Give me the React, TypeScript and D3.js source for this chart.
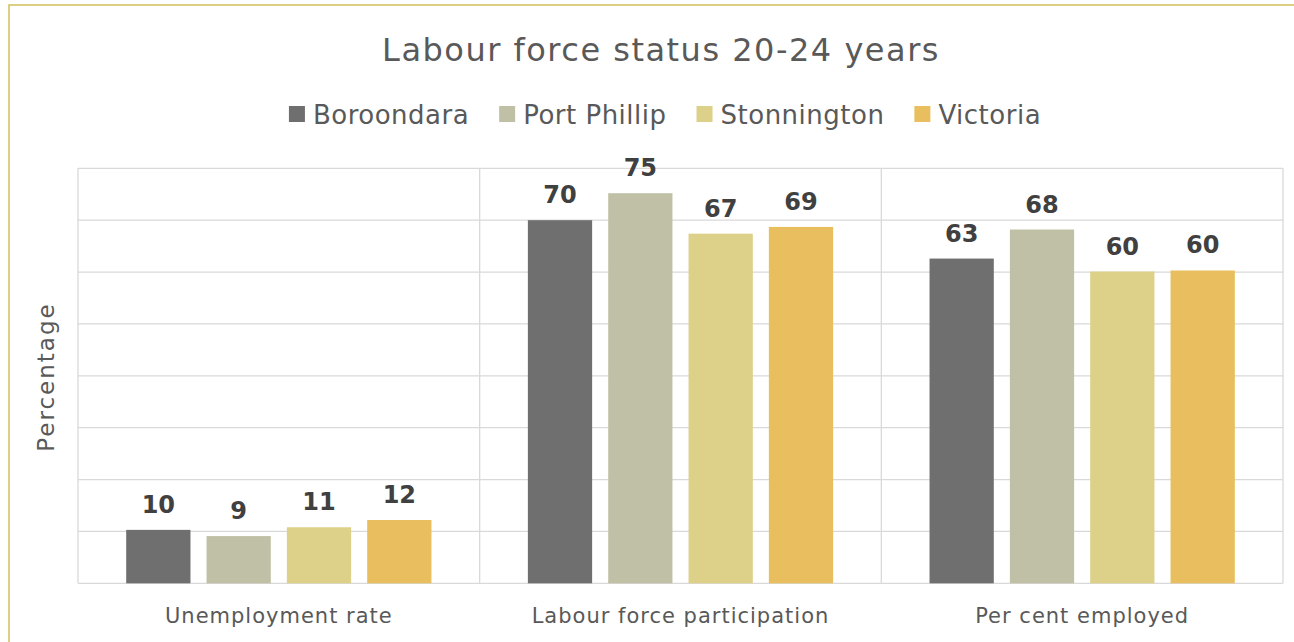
import React, { useRef, useEffect } from 'react';
import * as d3 from 'd3';

const categories = ["Unemployment rate", "Labour force participation", "Per cent employed"];
const seriesNames = ["Boroondara", "Port Phillip", "Stonnington", "Victoria"];
const boroondara = [10.3, 70.0, 62.6];
const portPhillip = [9.1, 75.2, 68.2];
const stonnington = [10.8, 67.4, 60.1];
const victoria = [12.2, 68.7, 60.3];
const colors = ["#6F6F6F", "#C0C0A6", "#DDD088", "#E8BE5E"];
const yTicks = [0, 10, 20, 30, 40, 50, 60, 70, 80];

const W = 1294;
const H = 642;
const FONT = "'DejaVu Sans', sans-serif";

export default function App() {
    const svgRef = useRef<SVGSVGElement>(null);

    useEffect(() => {
        if (!svgRef.current) return;
        const root = d3.select(svgRef.current);
        root.selectAll("*").remove();

        const values = [boroondara, portPhillip, stonnington, victoria];
        const plot = { left: 78, right: 1283, top: 168.3, bottom: 583.3 };

        // outer frame
        root.append("rect")
            .attr("x", 9).attr("y", 5)
            .attr("width", W + 20).attr("height", H + 20)
            .attr("fill", "#fff")
            .attr("stroke", "#D2C05A")
            .attr("stroke-width", 1.5);

        const x0 = d3.scaleBand().domain(categories).range([plot.left, plot.right]).padding(0);
        const x1 = d3.scaleBand().domain(seriesNames).range([0, x0.bandwidth()]).paddingInner(0.2).paddingOuter(0.6);
        const y = d3.scaleLinear().domain([0, 80]).range([plot.bottom, plot.top]);

        // horizontal grid
        root.append("g")
            .selectAll("line")
            .data(yTicks)
            .enter()
            .append("line")
            .attr("x1", plot.left).attr("x2", plot.right)
            .attr("y1", d => y(d)).attr("y2", d => y(d))
            .attr("stroke", "#D9D9D9")
            .attr("stroke-width", 1.3);

        // vertical category dividers
        const edges = [...categories.map(c => x0(c)!), plot.right];
        root.append("g")
            .selectAll("line")
            .data(edges)
            .enter()
            .append("line")
            .attr("x1", d => d).attr("x2", d => d)
            .attr("y1", plot.top).attr("y2", plot.bottom)
            .attr("stroke", "#D9D9D9")
            .attr("stroke-width", 1.3);

        // bars
        const rows = categories.flatMap((c, ci) => seriesNames.map((s, si) => ({
            cat: c, series: s, si, value: values[si][ci]
        })));

        root.append("g")
            .selectAll("rect")
            .data(rows)
            .enter()
            .append("rect")
            .attr("x", d => x0(d.cat)! + x1(d.series)!)
            .attr("y", d => y(d.value))
            .attr("width", x1.bandwidth())
            .attr("height", d => y(0) - y(d.value))
            .attr("fill", d => colors[d.si]);

        // data labels
        root.append("g")
            .selectAll("text")
            .data(rows)
            .enter()
            .append("text")
            .attr("x", d => x0(d.cat)! + x1(d.series)! + x1.bandwidth() / 2)
            .attr("y", d => y(d.value) - 17)
            .attr("text-anchor", "middle")
            .style("font-family", FONT)
            .style("font-size", "24px")
            .style("font-weight", "bold")
            .style("fill", "#404040")
            .text(d => Math.round(d.value));

        // category labels
        root.append("g")
            .selectAll("text")
            .data(categories)
            .enter()
            .append("text")
            .attr("x", d => x0(d)! + x0.bandwidth() / 2)
            .attr("y", 623)
            .attr("text-anchor", "middle")
            .style("font-family", FONT)
            .style("font-size", "21px")
            .style("letter-spacing", "1px")
            .style("fill", "#595959")
            .text(d => d);

        // y axis title
        root.append("text")
            .attr("transform", "translate(54,377) rotate(-90)")
            .attr("text-anchor", "middle")
            .style("font-family", FONT)
            .style("font-size", "23px")
            .style("letter-spacing", "2px")
            .style("fill", "#595959")
            .text("Percentage");

        // title
        root.append("text")
            .attr("x", 661)
            .attr("y", 61)
            .attr("text-anchor", "middle")
            .style("font-family", FONT)
            .style("font-size", "32px")
            .style("letter-spacing", "1.5px")
            .style("fill", "#595959")
            .text("Labour force status 20-24 years");

        // legend
        const legend = root.append("g");
        const items = legend.selectAll("g")
            .data(seriesNames)
            .enter()
            .append("g");
        items.append("rect")
            .attr("width", 16).attr("height", 16)
            .attr("y", 106)
            .attr("fill", (d, i) => colors[i]);
        const labels = items.append("text")
            .attr("x", 24)
            .attr("y", 124)
            .style("font-family", FONT)
            .style("font-size", "26px")
            .style("letter-spacing", "0.5px")
            .style("fill", "#595959")
            .text(d => d);

        const widths: number[] = [];
        labels.each(function () {
            widths.push(24 + (this as SVGTextElement).getComputedTextLength());
        });
        const gap = 30;
        const total = d3.sum(widths) + gap * (widths.length - 1);
        let cx = 665 - total / 2;
        items.attr("transform", (d, i) => {
            const t = `translate(${cx},0)`;
            cx += widths[i] + gap;
            return t;
        });
    }, []);

    return (
        <div style={{ position: "absolute", left: 0, top: 0, width: W, height: H, overflow: "hidden", background: "#fff" }}>
            <svg ref={svgRef} width={W} height={H} />
        </div>
    );
}
